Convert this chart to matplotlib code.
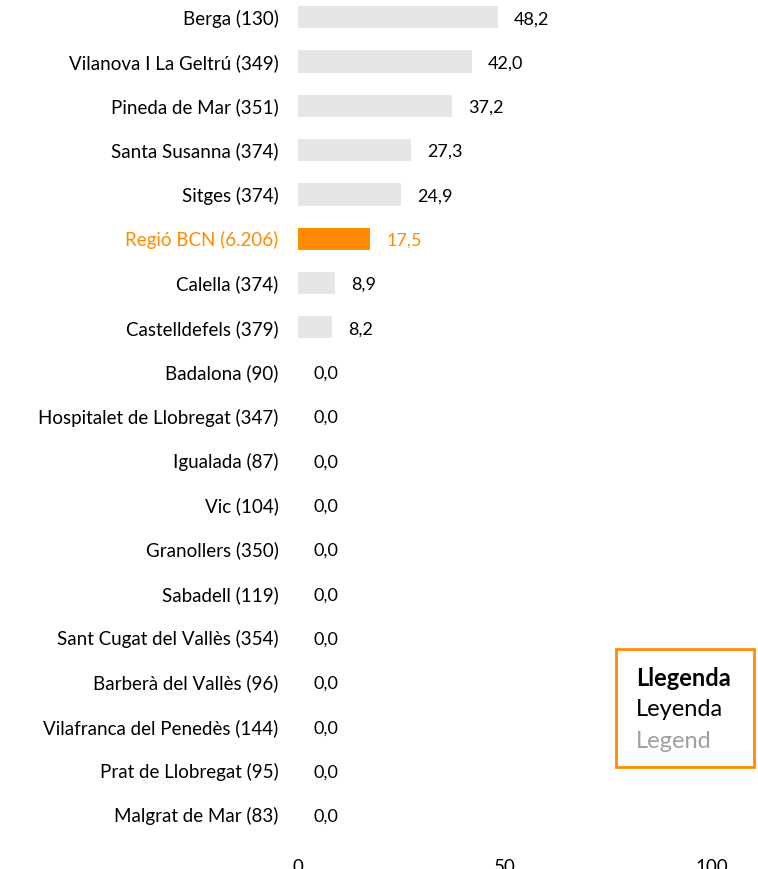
import matplotlib
matplotlib.use("Agg")
import matplotlib.pyplot as plt
from matplotlib.patches import Rectangle

plt.rcParams["font.family"] = ["Lato", "DejaVu Sans"]

categories = [
    "Berga (130)", "Vilanova I La Geltrú (349)", "Pineda de Mar (351)",
    "Santa Susanna (374)", "Sitges (374)", "Regió BCN (6.206)",
    "Calella (374)", "Castelldefels (379)", "Badalona (90)",
    "Hospitalet de Llobregat (347)", "Igualada (87)", "Vic (104)",
    "Granollers (350)", "Sabadell (119)", "Sant Cugat del Vallès (354)",
    "Barberà del Vallès (96)", "Vilafranca del Penedès (144)",
    "Prat de Llobregat (95)", "Malgrat de Mar (83)",
]
values = [48.2, 42.0, 37.2, 27.3, 24.9, 17.5, 8.9, 8.2,
          0, 0, 0, 0, 0, 0, 0, 0, 0, 0, 0]
highlight = "Regió BCN (6.206)"
xticks = [0, 50, 100]

ORANGE = "#ff8c00"
GRAY = "#e6e6e6"

W, H = 758, 869
fig = plt.figure(figsize=(W / 100, H / 100), dpi=100)
# axes: x 0..100 -> px 298..712, rows from y=17 to y=815
ax = fig.add_axes([298 / W, 1 - 837 / H, 414 / W, 842 / H])

ys = list(range(len(categories)))
colors = [ORANGE if c == highlight else GRAY for c in categories]
ax.barh(ys, values, height=0.5, color=colors)
ax.set_xlim(0, 100)
ax.set_ylim(len(categories) - 0.5, -0.5)

ax.set_yticks(ys)
ax.set_yticklabels(categories, fontsize=13.5)
for lbl, c in zip(ax.get_yticklabels(), categories):
    lbl.set_color(ORANGE if c == highlight else "black")
ax.tick_params(axis="y", length=0, pad=14)

ax.set_xticks(xticks)
ax.set_xticklabels([str(t) for t in xticks], fontsize=13.5)
ax.tick_params(axis="x", length=0, pad=16)

for s in ax.spines.values():
    s.set_visible(False)

for y, v, c in zip(ys, values, categories):
    ax.annotate(f"{v:.1f}".replace(".", ","), xy=(v, y), xytext=(16, -2),
                textcoords="offset pixels", va="center", ha="left",
                fontsize=13, color=ORANGE if c == highlight else "black")

# legend box
fig.patches.append(Rectangle((616 / W, 1 - 767 / H), 138 / W, 118 / H,
                             transform=fig.transFigure, fill=False,
                             edgecolor=ORANGE, linewidth=2))
fig.text(636 / W, 1 - 678 / H, "Llegenda", fontsize=17, fontweight="bold",
         va="center", ha="left", color="black")
fig.text(636 / W, 1 - 710 / H, "Leyenda", fontsize=17,
         va="center", ha="left", color="black")
fig.text(636 / W, 1 - 742 / H, "Legend", fontsize=17,
         va="center", ha="left", color="#a0a0a0")

fig.savefig("out.png", dpi=100)
